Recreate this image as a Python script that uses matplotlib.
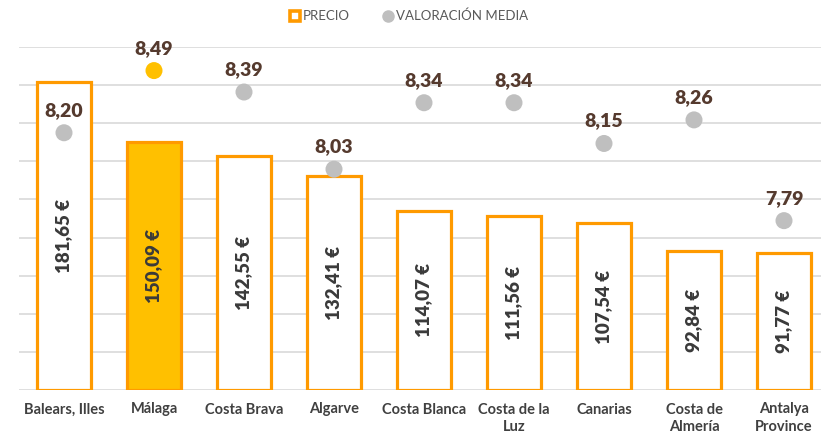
import matplotlib
matplotlib.use("Agg")
import matplotlib.pyplot as plt
from matplotlib.lines import Line2D

plt.rcParams['font.family'] = ['Lato', 'DejaVu Sans']

categories = ["Balears, Illes", "Málaga", "Costa Brava", "Algarve", "Costa Blanca",
              "Costa de la\nLuz", "Canarias", "Costa de\nAlmería", "Antalya\nProvince"]
precio = [181.65, 150.09, 142.55, 132.41, 114.07, 111.56, 107.54, 92.84, 91.77]
valoracion = [8.20, 8.49, 8.39, 8.03, 8.34, 8.34, 8.15, 8.26, 7.79]
highlight = "Málaga"

ORANGE = "#FF9A00"
GOLD = "#FFC000"
GREY_DOT = "#BFBFBF"
LABEL_BROWN = "#553A2E"
TEXT_DARK = "#404040"

fig = plt.figure(figsize=(8.21, 4.38), dpi=100)
ax = fig.add_axes([19/821, 48/438, (821-19)/821, 343/438])
x = list(range(len(categories)))
ax.set_xlim(-0.5, -0.5 + 802/90)
ax.set_ylim(20, 200)

fills = [GOLD if c == highlight else "white" for c in categories]
bars = ax.bar(x, [p - 20 for p in precio], bottom=20, width=0.61, color=fills,
              edgecolor=ORANGE, linewidth=2.3, zorder=3)

for xi, p in zip(x, precio):
    lbl = f"{p:.2f}".replace(".", ",") + " €"
    ax.text(xi, (p + 20) / 2, lbl, rotation=90, ha="center", va="center",
            fontsize=13.5, fontweight="heavy", color="#3A3A3A", zorder=4)

ax.set_yticks(range(20, 201, 20))
ax.yaxis.grid(True, color="#D9D9D9", linewidth=1.2, zorder=0)
ax.set_axisbelow(True)
ax.tick_params(axis="y", length=0, labelleft=False)
ax.set_xticks(x)
ax.set_xticklabels(categories, fontsize=10.5, fontweight="bold", color=TEXT_DARK,
                   linespacing=1.3)
ax.tick_params(axis="x", length=0, pad=9)
for s in ax.spines.values():
    s.set_visible(False)

ax2 = ax.twinx()
ax2.set_ylim(7.0, 8.6)
dot_colors = [GOLD if c == highlight else GREY_DOT for c in categories]
ax2.scatter(x, valoracion, s=150, c=dot_colors, zorder=5, linewidths=0)
for xi, v in zip(x, valoracion):
    ax2.annotate(f"{v:.2f}".replace(".", ","), (xi, v), xytext=(0, 10),
                 textcoords="offset points", ha="center", va="bottom",
                 fontsize=14, fontweight="heavy", color=LABEL_BROWN)
ax2.set_yticks([])
for s in ax2.spines.values():
    s.set_visible(False)

handles = [
    Line2D([], [], linestyle="none", marker="s", markersize=7, markerfacecolor="white",
           markeredgecolor=ORANGE, markeredgewidth=2.6),
    Line2D([], [], linestyle="none", marker="o", markersize=8, markerfacecolor=GREY_DOT,
           markeredgecolor=GREY_DOT),
]
fig.legend(handles, ["PRECIO", "VALORACIÓN MEDIA"], loc="center",
           bbox_to_anchor=(0.497, 0.963), ncol=2, frameon=False, fontsize=9.5,
           labelcolor="#595959", handletextpad=0.1, columnspacing=2.4,
           handlelength=1.0)

fig.savefig("out.png", dpi=100)
